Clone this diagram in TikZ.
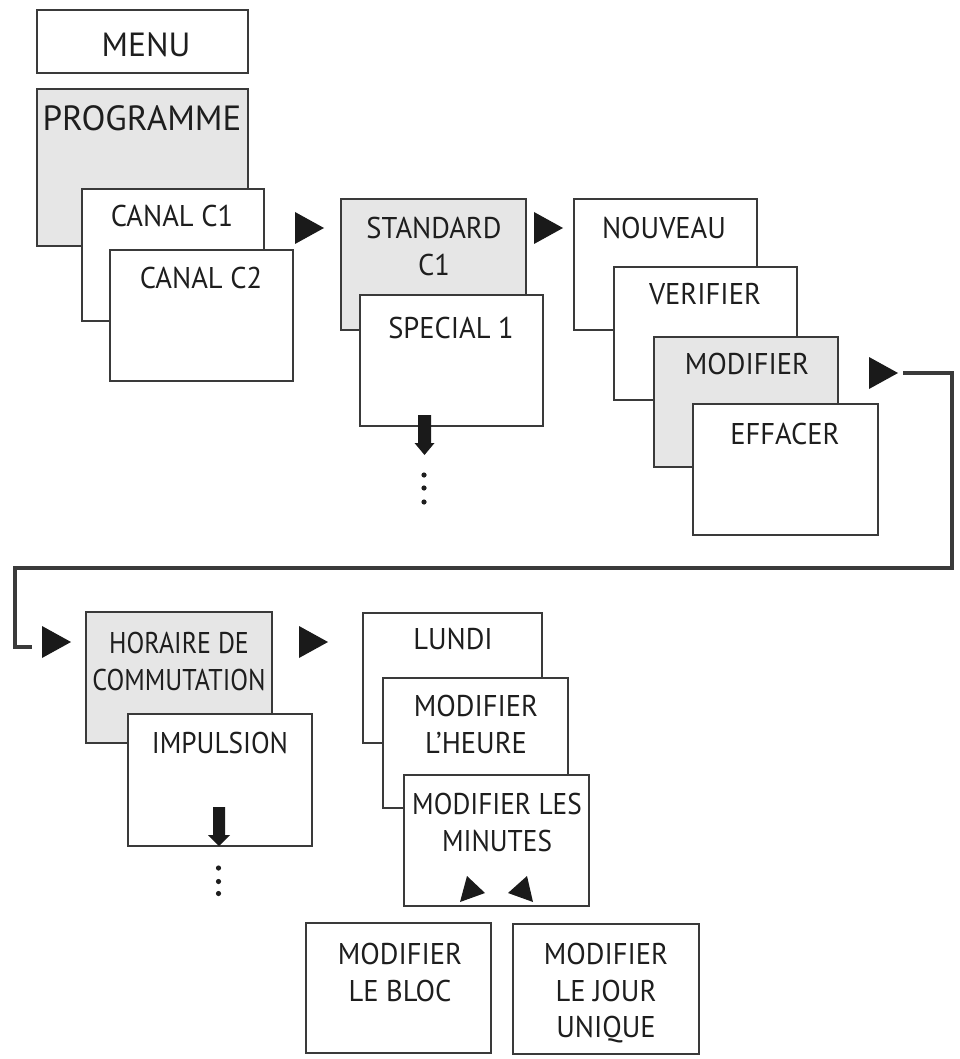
\documentclass[tikz,border=0pt]{standalone}
\usepackage{fontspec}
\setmainfont{PT Sans}
\newfontfamily\dinA[FakeStretch=0.95]{PT Sans}
\newfontfamily\dinB[FakeStretch=0.91]{PT Sans}
\newfontfamily\dinC[FakeStretch=0.865]{PT Sans}
\definecolor{boxline}{HTML}{3A3A3A}
\definecolor{boxgray}{HTML}{E6E6E6}
\definecolor{txt}{HTML}{1E1E1E}
\definecolor{tri}{HTML}{1A1A1A}
\begin{document}
\begin{tikzpicture}[x=1pt,y=-1pt,
  box/.style={draw=boxline, line width=2.4pt, fill=white, rectangle, inner sep=0pt, outer sep=0pt, anchor=north west},
  graybox/.style={box, fill=boxgray},
  lbl/.style={anchor=north, inner sep=0pt, align=center, font=\dinA\fontsize{30}{36.5}\selectfont, text=txt},
  lblnarrow/.style={lbl, font=\dinB\fontsize{30}{36.5}\selectfont},
  lblcond/.style={lbl, font=\dinC\fontsize{30}{36.5}\selectfont},
  conn/.style={draw=boxline, line width=3.6pt},
  tipfill/.style={fill=tri}
]
\useasboundingbox[fill=white] (0,0) rectangle (959,1059);

% column 1
\node[box, minimum width=211pt, minimum height=63pt] (menu) at (37,10) {};
\node[lbl, font=\fontsize{33.5}{40}\selectfont] (tmenu) at (146,32) {MENU};
\node[graybox, minimum width=211pt, minimum height=157pt] (prog) at (37,89) {};
\node[lbl, font=\fontsize{35}{40}\selectfont] (tprog) at (142,105) {PROGRAMME};
\node[box, minimum width=182pt, minimum height=132pt] (c1) at (82,189) {};
\node[lbl] (tc1) at (172,205) {CANAL C1};
\node[box, minimum width=183pt, minimum height=131pt] (c2) at (110,250) {};
\node[lbl] (tc2) at (201,267) {CANAL C2};

% column 2
\node[graybox, minimum width=185pt, minimum height=131pt] (std) at (341,199) {};
\node[lbl] (tstd) at (434,217) {STANDARD\\C1};
\node[box, minimum width=183pt, minimum height=131pt] (spe) at (360,295) {};
\node[lbl] (tspe) at (451,317) {SPECIAL 1};

% column 3
\node[box, minimum width=183pt, minimum height=131pt] (nou) at (574,199) {};
\node[lbl] (tnou) at (664,217) {NOUVEAU};
\node[box, minimum width=183pt, minimum height=133pt] (ver) at (614,267) {};
\node[lbl] (tver) at (705,283) {VERIFIER};
\node[graybox, minimum width=184pt, minimum height=130pt] (mod) at (654,337) {};
\node[lbl] (tmod) at (747,353) {MODIFIER};
\node[box, minimum width=185pt, minimum height=131pt] (eff) at (693,404) {};
\node[lbl] (teff) at (785,423) {EFFACER};

% row 2
\node[graybox, minimum width=186pt, minimum height=131pt] (hor) at (86,612) {};
\node[lblcond] (thor) at (179,632) {HORAIRE DE\\COMMUTATION};
\node[box, minimum width=184pt, minimum height=132pt] (imp) at (128,714) {};
\node[lblnarrow] (timp) at (220,732) {IMPULSION};

\node[box, minimum width=179pt, minimum height=130pt] (lun) at (363,613) {};
\node[lbl] (tlun) at (453,628) {LUNDI};
\node[box, minimum width=185pt, minimum height=130pt] (mlh) at (383,678) {};
\node[lbl] (tmlh) at (476,695) {MODIFIER\\L’HEURE};
\node[box, minimum width=185pt, minimum height=131pt] (mlm) at (404,775) {};
\node[lblnarrow] (tmlm) at (497,793) {MODIFIER LES\\MINUTES};

\node[box, minimum width=185pt, minimum height=130pt] (mlb) at (306,923) {};
\node[lbl] (tmlb) at (400,943) {MODIFIER\\LE BLOC};
\node[box, minimum width=186pt, minimum height=130pt] (mlj) at (513,924) {};
\node[lbl] (tmlj) at (606,943) {MODIFIER\\LE JOUR\\UNIQUE};

% right-pointing triangles
\coordinate (a1) at (324,228);
\coordinate (a2) at (563,228);
\coordinate (a3) at (898,373);
\coordinate (a4) at (71,642);
\coordinate (a5) at (328,642);
\foreach \p in {a1,a2,a3,a4,a5}
  \fill[tipfill] (\p) -- ++(-29,-16) -- ++(0,32) -- cycle;

% long connector
\coordinate (lstart) at (903,373);
\coordinate (lend) at (32,647);
\draw[conn] (lstart) -| (952,568) -| (15,647) -- (lend);

% down block arrows and dots
\fill[tipfill] (418,415) -- (431,415) -- (431,443) -- (434.5,443) -- (424.5,455) -- (414.5,443) -- (418,443) -- cycle;
\foreach \yy in {475,488,502} \fill[txt] (424,\yy) circle (2.6);
\fill[tipfill] (213,807) -- (225,807) -- (225,835) -- (230,835) -- (219,846) -- (208,835) -- (213,835) -- cycle;
\foreach \yy in {868,881.5,893.5} \fill[txt] (218.5,\yy) circle (2.6);

% small triangles in MINUTES box
\fill[tipfill] (467,876) -- (485,893) -- (460,902) -- cycle;
\fill[tipfill] (527,876) -- (508,893) -- (533,902) -- cycle;
\end{tikzpicture}
\end{document}
